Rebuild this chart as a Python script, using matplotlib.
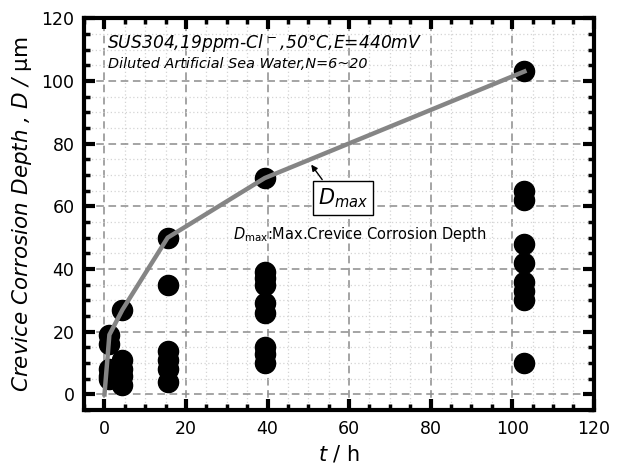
import numpy as np
import matplotlib.pyplot as plt
from matplotlib.ticker import MultipleLocator

# Crevice depths measured at each immersion time
t_1h = [19, 16, 8, 6, 5]
t_4h = [27, 11, 8, 6, 3]
t_15h = [50, 35, 14, 11, 8, 4]
t_39h = [69, 39, 37, 35, 29, 26, 15, 13, 10]
t_103h = [103, 65, 62, 48, 42, 36, 33, 30, 10]
times = [1.2, 4.4, 15.5, 39.3, 103]
depths = [t_1h, t_4h, t_15h, t_39h, t_103h]

# Maximum depth curve
dmax_t = [0, 1.2, 4.4, 15.5, 39.3, 103]
dmax_d = [0, 19, 27, 50, 69, 103]

fig = plt.figure(figsize=(6.23, 4.66), dpi=100)
ax = fig.add_axes([0.135, 0.12, 0.818, 0.841])

for t, d in zip(times, depths):
    ax.plot([t] * len(d), d, 'o', color='black', markersize=14.5, zorder=3)

ax.plot(dmax_t, dmax_d, '-', color='#858585', lw=3.2, zorder=4)

ax.set_xlim(-5, 120)
ax.set_ylim(-5, 120)
ax.xaxis.set_major_locator(MultipleLocator(20))
ax.xaxis.set_minor_locator(MultipleLocator(5))
ax.yaxis.set_major_locator(MultipleLocator(20))
ax.yaxis.set_minor_locator(MultipleLocator(5))

ax.grid(which='major', ls=(0, (5, 3)), color='#8c8c8c', lw=1.1)
ax.grid(which='minor', ls=(0, (1, 2)), color='#d4d4d4', lw=0.9)
ax.set_axisbelow(True)

for s in ax.spines.values():
    s.set_linewidth(3)
ax.tick_params(which='both', direction='in', top=True, right=True,
               labelsize=12.5, pad=7)
ax.tick_params(which='major', length=8, width=3)
ax.tick_params(which='minor', length=4.5, width=2.5)

ax.set_xlabel('$t$ / h', fontsize=15, labelpad=4)
ax.set_ylabel(r'Crevice Corrosion Depth , D / $\mathrm{\mu m}$',
              fontsize=15.5, style='italic', labelpad=5)

ax.text(0.5, 115.5, 'SUS304,19ppm-Cl$^{\\,-}$,50°C,E=440mV',
        fontsize=12.3, style='italic', va='top')
ax.text(0.8, 107.5, 'Diluted Artificial Sea Water,N=6~20',
        fontsize=10.4, style='italic', va='top')

ax.annotate('', xy=(50.3, 74), xytext=(53.8, 67.8),
            arrowprops=dict(arrowstyle='-|>', color='black', lw=1,
                            mutation_scale=9))
ax.text(58.5, 62.5, r'$D_{max}$', fontsize=15, ha='center', va='center',
        bbox=dict(boxstyle='square,pad=0.25', fc='white', ec='black', lw=1))
ax.text(31.5, 51, r'$D_{\mathrm{max}}$:Max.Crevice Corrosion Depth',
        fontsize=10.5, va='center')

fig.savefig('out.png', dpi=100)
